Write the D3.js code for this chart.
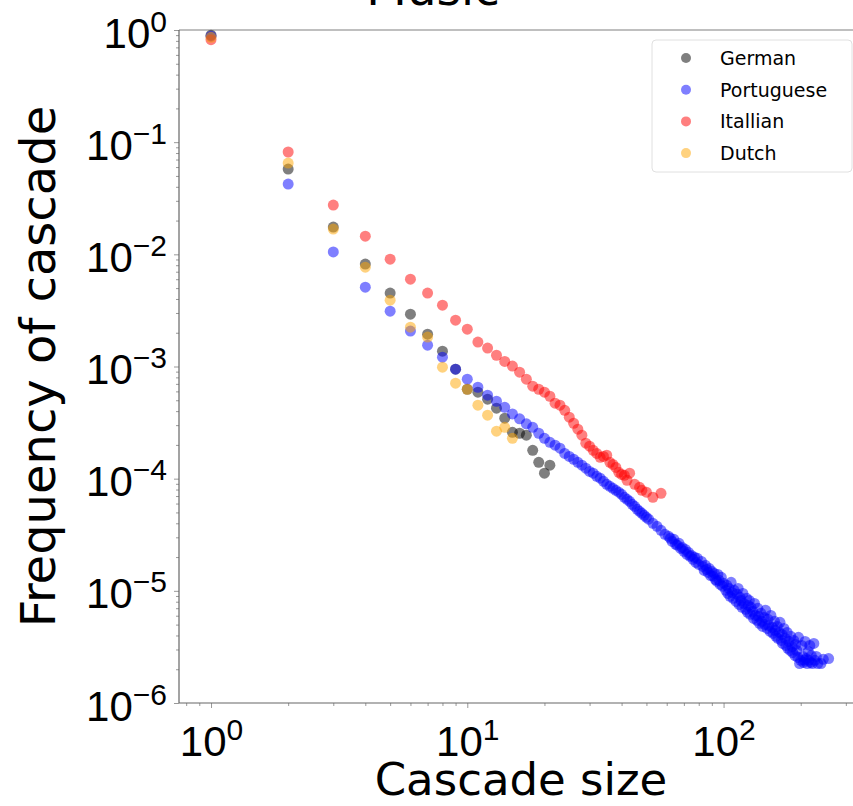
<!DOCTYPE html>
<html>
<head>
<meta charset="utf-8">
<script src="https://cdn.jsdelivr.net/npm/d3@7"></script>
<style>
  body { margin: 0; background: #fff; }
  svg { font-family: "DejaVu Sans", sans-serif; }
</style>
</head>
<body>
<div id="chart"></div>
<script>
// cascade sizes and frequencies
const germanSize = [1, 2, 3, 4, 5, 6, 7, 8, 9, 10, 11, 12, 13, 14, 15, 16, 17, 18, 19, 20, 21];
const germanFreq = [0.90, 0.0575, 0.0175, 0.00818, 0.00451, 0.00293, 0.00194, 0.00137, 9.46e-4, 6.27e-4,
  5.90e-4, 5.11e-4, 4.25e-4, 3.46e-4, 2.59e-4, 2.54e-4, 2.44e-4, 1.79e-4, 1.40e-4, 1.12e-4, 1.32e-4];

const portugueseSize = [1, 2, 3, 4, 5, 6, 7, 8, 9, 10, 11, 12, 13, 14, 15, 16, 17, 18, 19, 20,
  21, 22, 23, 24, 25, 26, 27, 28, 29, 30, 31, 32, 33, 34, 35, 36, 37, 38, 39, 40,
  41, 42, 43, 44, 45, 46, 47, 48, 49, 50, 51, 53, 55, 57, 59, 61, 62, 63, 64, 65,
  66, 67, 68, 69, 70, 71, 72, 73, 74, 75, 76, 77, 78, 79, 80, 82, 83, 84, 85, 86,
  87, 88, 89, 90, 91, 92, 93, 94, 95, 96, 97, 98, 99, 100, 102, 103, 104, 105, 106, 107,
  108, 109, 110, 112, 113, 114, 115, 116, 117, 118, 119, 120, 122, 123, 124, 125, 126, 127, 128, 130,
  131, 132, 133, 135, 136, 137, 138, 140, 141, 142, 144, 145, 146, 148, 149, 150, 152, 153, 155, 156,
  158, 159, 160, 162, 163, 165, 166, 168, 169, 170, 172, 174, 175, 177, 178, 180, 182, 183, 185, 186,
  188, 190, 191, 193, 195, 196, 198, 200, 202, 204, 205, 207, 208, 210, 212, 214, 215, 217, 219, 220,
  222, 225, 227, 230, 233, 240, 245, 257];
const portugueseFreq = [0.88, 0.0423, 0.0105, 0.0051, 0.00311, 0.00207, 0.00155, 0.00121, 9.46e-4, 7.70e-4,
  6.53e-4, 5.55e-4, 4.90e-4, 4.33e-4, 3.78e-4, 3.42e-4, 3.08e-4, 2.87e-4, 2.54e-4, 2.29e-4,
  2.11e-4, 1.99e-4, 1.87e-4, 1.68e-4, 1.58e-4, 1.49e-4, 1.40e-4, 1.32e-4, 1.24e-4, 1.16e-4,
  1.12e-4, 1.05e-4, 1.01e-4, 9.48e-5, 8.91e-5, 8.55e-5, 8.20e-5, 7.87e-5, 7.57e-5, 7.26e-5,
  6.82e-5, 6.55e-5, 6.28e-5, 5.90e-5, 5.67e-5, 5.33e-5, 5.12e-5, 4.91e-5, 4.71e-5, 4.52e-5,
  4.35e-5, 4.00e-5, 3.76e-5, 3.46e-5, 3.19e-5, 3.06e-5, 2.94e-5, 2.76e-5, 2.88e-5, 2.60e-5,
  2.55e-5, 2.65e-5, 2.39e-5, 2.44e-5, 2.25e-5, 2.34e-5, 2.11e-5, 2.20e-5, 2.03e-5, 2.07e-5,
  1.91e-5, 1.99e-5, 1.79e-5, 1.95e-5, 1.72e-5, 1.83e-5, 1.65e-5, 1.52e-5, 1.69e-5, 1.55e-5,
  1.46e-5, 1.58e-5, 1.37e-5, 1.49e-5, 1.35e-5, 1.43e-5, 1.26e-5, 1.22e-5, 1.40e-5, 1.24e-5,
  1.14e-5, 1.32e-5, 1.10e-5, 1.17e-5, 1.01e-5, 1.12e-5, 9.48e-6, 1.05e-5, 8.93e-6, 1.19e-5,
  9.68e-6, 8.57e-6, 1.01e-5, 8.05e-6, 9.31e-6, 1.05e-5, 7.57e-6, 8.75e-6, 8.22e-6, 7.13e-6,
  9.48e-6, 7.73e-6, 6.84e-6, 8.57e-6, 6.43e-6, 7.41e-6, 8.22e-6, 6.17e-6, 7.13e-6, 6.56e-6,
  5.68e-6, 7.73e-6, 6.04e-6, 5.46e-6, 6.98e-6, 5.92e-6, 5.13e-6, 6.30e-6, 5.35e-6, 4.82e-6,
  5.79e-6, 5.02e-6, 6.70e-6, 4.62e-6, 5.57e-6, 4.92e-6, 4.35e-6, 6.04e-6, 4.72e-6, 4.18e-6,
  5.35e-6, 4.44e-6, 3.93e-6, 4.82e-6, 3.77e-6, 4.26e-6, 5.24e-6, 3.61e-6, 4.09e-6, 3.40e-6,
  4.62e-6, 3.77e-6, 3.26e-6, 4.26e-6, 3.07e-6, 3.54e-6, 2.94e-6, 3.93e-6, 3.19e-6, 2.82e-6,
  3.61e-6, 2.65e-6, 3.33e-6, 2.94e-6, 2.55e-6, 3.85e-6, 2.25e-6, 2.40e-6, 3.26e-6, 2.60e-6,
  2.30e-6, 2.40e-6, 3.54e-6, 2.49e-6, 2.25e-6, 2.88e-6, 2.40e-6, 3.26e-6, 2.30e-6, 2.65e-6,
  2.25e-6, 3.40e-6, 2.40e-6, 2.60e-6, 2.25e-6, 2.25e-6, 2.45e-6, 2.49e-6];

const italianSize = [1, 2, 3, 4, 5, 6, 7, 8, 9, 10, 11, 12, 13, 14, 15, 16, 17, 18, 19, 20,
  21, 22, 23, 24, 25, 26, 27, 28, 29, 30, 31, 32, 33, 34, 35, 36, 37, 38, 39, 40,
  41, 42, 43, 45, 47, 48, 50, 53, 57];
const italianFreq = [0.82, 0.0817, 0.0275, 0.0145, 0.00906, 0.00601, 0.00451, 0.00352, 0.00259, 0.00215,
  0.00165, 0.00146, 0.00126, 0.00111, 0.00101, 8.89e-4, 7.70e-4, 6.67e-4, 6.27e-4, 5.90e-4,
  5.43e-4, 4.71e-4, 4.52e-4, 4.07e-4, 3.53e-4, 3.12e-4, 2.76e-4, 2.44e-4, 2.07e-4, 1.95e-4,
  1.79e-4, 1.68e-4, 1.55e-4, 1.58e-4, 1.62e-4, 1.40e-4, 1.34e-4, 1.26e-4, 1.14e-4, 1.09e-4,
  1.07e-4, 9.68e-5, 1.12e-4, 8.91e-5, 8.38e-5, 7.88e-5, 7.57e-5, 6.83e-5, 7.41e-5];

const dutchSize = [1, 2, 3, 4, 5, 6, 7, 8, 9, 10, 11, 12, 13, 14, 15];
const dutchFreq = [0.86, 0.0651, 0.0168, 0.00769, 0.00390, 0.00224, 0.00183, 9.86e-4, 7.10e-4, 6.27e-4,
  4.52e-4, 3.68e-4, 2.65e-4, 2.87e-4, 2.29e-4];

const seriesNames = ["German", "Portuguese", "Itallian", "Dutch"];
const seriesColors = ["#000000", "#0000ff", "#ff0000", "#ffa500"];

const xDecades = [1, 10, 100];
const yDecades = [1e-6, 1e-5, 1e-4, 1e-3, 1e-2, 1e-1, 1];

const series = [
  { name: seriesNames[0], color: seriesColors[0], size: germanSize, freq: germanFreq },
  { name: seriesNames[1], color: seriesColors[1], size: portugueseSize, freq: portugueseFreq },
  { name: seriesNames[2], color: seriesColors[2], size: italianSize, freq: italianFreq },
  { name: seriesNames[3], color: seriesColors[3], size: dutchSize, freq: dutchFreq }
];

const W = 853, H = 806;
const plot = { left: 179, right: 863, top: 30, bottom: 703 };

const svg = d3.select("#chart").append("svg")
  .attr("width", W)
  .attr("height", H);

const xScale = d3.scaleLog().domain([0.75, 350]).range([plot.left, plot.right]);
const yScale = d3.scaleLog().domain([1e-6, 1]).range([plot.bottom, plot.top]);

// minor ticks first, then major
const xMinor = xScale.ticks().filter(v => !xDecades.includes(v));
const yMinor = yScale.ticks().filter(v => !yDecades.some(d => Math.abs(d - v) / d < 1e-9));

const supFormat = v => Math.round(Math.log10(v));

function styleAxis(g) {
  g.select(".domain").remove();
  g.selectAll(".tick line").attr("stroke", "#999");
}

svg.append("g")
  .attr("transform", `translate(0, ${plot.bottom})`)
  .call(d3.axisBottom(xScale).tickValues(xMinor).tickSize(3).tickFormat(""))
  .call(styleAxis);

svg.append("g")
  .attr("transform", `translate(${plot.left}, 0)`)
  .call(d3.axisLeft(yScale).tickValues(yMinor).tickSize(3).tickFormat(""))
  .call(styleAxis);

const xAxisG = svg.append("g")
  .attr("transform", `translate(0, ${plot.bottom})`)
  .call(d3.axisBottom(xScale).tickValues(xDecades).tickSize(5).tickFormat(""))
  .call(styleAxis);

const yAxisG = svg.append("g")
  .attr("transform", `translate(${plot.left}, 0)`)
  .call(d3.axisLeft(yScale).tickValues(yDecades).tickSize(5).tickFormat(""))
  .call(styleAxis);

// "10" with a raised exponent
function powerLabel(text, v) {
  const e = supFormat(v);
  text.text("10");
  text.append("tspan")
    .attr("dy", -16)
    .attr("font-size", 30)
    .text(e < 0 ? "\u2212" + (-e) : String(e));
}

xAxisG.selectAll(".tick").each(function (d) {
  const t = d3.select(this).select("text")
    .attr("y", 53).attr("dy", null)
    .attr("fill", "#000")
    .attr("font-size", 42)
    .attr("text-anchor", "middle");
  powerLabel(t, d);
});

yAxisG.selectAll(".tick").each(function (d) {
  const t = d3.select(this).select("text")
    .attr("x", -12).attr("y", 17).attr("dy", null)
    .attr("fill", "#000")
    .attr("font-size", 42)
    .attr("text-anchor", "end");
  powerLabel(t, d);
});

// spines
svg.append("line")
  .attr("x1", plot.left).attr("x2", plot.right)
  .attr("y1", plot.top).attr("y2", plot.top)
  .attr("stroke", "#aaa").attr("stroke-width", 1.6);
svg.append("line")
  .attr("x1", plot.left).attr("x2", plot.right)
  .attr("y1", plot.bottom).attr("y2", plot.bottom)
  .attr("stroke", "#666").attr("stroke-width", 1.2);
svg.append("line")
  .attr("x1", plot.left).attr("x2", plot.left)
  .attr("y1", plot.top).attr("y2", plot.bottom)
  .attr("stroke", "#666").attr("stroke-width", 1.2);

// points
series.forEach(s => {
  svg.append("g")
    .selectAll("circle")
    .data(s.size.map((v, i) => [v, s.freq[i]]))
    .enter()
    .append("circle")
    .attr("cx", d => xScale(d[0]))
    .attr("cy", d => yScale(d[1]))
    .attr("r", 5.5)
    .attr("fill", s.color)
    .attr("fill-opacity", 0.5);
});

// labels
svg.append("text")
  .attr("x", (plot.left + plot.right) / 2)
  .attr("y", 795)
  .attr("text-anchor", "middle")
  .attr("font-size", 45)
  .text("Cascade size");

svg.append("text")
  .attr("transform", `translate(55, ${(plot.top + plot.bottom) / 2}) rotate(-90)`)
  .attr("text-anchor", "middle")
  .attr("font-size", 48)
  .text("Frequency of cascade");

svg.append("text")
  .attr("x", 433)
  .attr("y", 5)
  .attr("text-anchor", "middle")
  .attr("font-size", 47)
  .text("Music");

// legend
const legend = svg.append("g").attr("transform", "translate(652, 40)");
legend.append("rect")
  .attr("width", 200).attr("height", 132)
  .attr("rx", 4)
  .attr("fill", "#fff").attr("fill-opacity", 0.8)
  .attr("stroke", "#e0e0e0");

series.forEach((s, i) => {
  const row = legend.append("g").attr("transform", `translate(0, ${18 + i * 31.7})`);
  row.append("circle")
    .attr("cx", 34).attr("r", 5)
    .attr("fill", s.color).attr("fill-opacity", 0.5);
  row.append("text")
    .attr("x", 68).attr("y", 7)
    .attr("font-size", 19)
    .text(s.name);
});
</script>
</body>
</html>
